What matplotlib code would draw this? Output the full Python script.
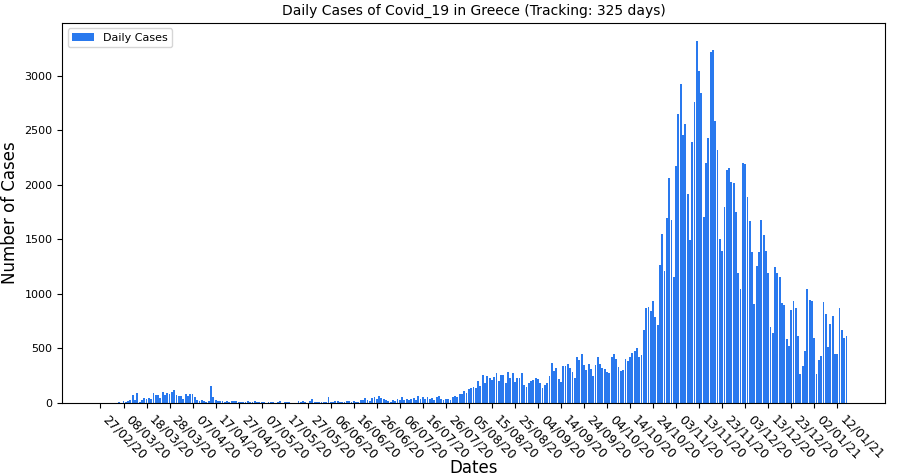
import datetime as dt

import matplotlib.pyplot as plt
import numpy as np

start = dt.date(2020, 2, 27)

early = [0, 0, 0, 0, 0, 0, 0, 0, 7, 3, 21, 10,
         14, 26, 73, 23, 89, 10, 31, 49, 38, 46,
         38, 95, 70, 71, 42, 96, 72, 90, 82, 102,
         121, 75, 61, 62, 34, 80, 62, 81, 84, 57,
         30, 19, 24, 20, 10, 15, 156, 50, 24, 16,
         13, 22, 11, 19, 10, 17, 15, 14, 8, 10,
         9, 10, 14, 8, 5, 20, 10, 4, 9, 12,
         3, 8, 6, 10, 2, 5, 16, 2, 6, 11,
         10, 3, 2, 0, 15, 7, 20, 4, 3, 16,
         36, 8, 10, 6, 4, 12, 8, 54, 12, 10,
         15, 20, 8, 10, 12, 18, 16, 12, 22, 12,
         12, 28, 30, 46, 25, 15, 47, 54, 38, 60,
         45, 35, 30, 20, 12, 30, 22, 40, 30, 52,
         30, 40, 25, 35, 45, 28, 60, 40, 55, 35,
         50, 35, 45, 25, 55, 60, 40, 30, 33, 40,
         30, 50, 60, 55, 85, 80, 110, 90, 125, 140,
         150, 140, 200, 155, 260, 180, 245, 230, 210, 240,
         270, 200, 260, 260, 180, 280, 230, 270, 195, 230,
         230, 270, 160, 150, 180, 200, 210, 230, 220, 180,
         140, 160, 180, 250, 370, 290, 320, 220, 190, 340,
         340, 360, 320, 280, 225, 420, 390, 450, 350, 300,
         360, 310, 250, 350, 420, 360, 320, 310, 280, 270,
         420, 450, 400, 330, 290, 300, 400, 380, 420, 460,
         480, 500, 420, 440]

late = [667, 870, 880, 840, 930, 790, 713, 1263, 1548, 1209,
        1695, 2062, 1677, 1154, 2172, 2650, 2925, 2460, 2558, 1915,
        1493, 2393, 2760, 3320, 3045, 2843, 1704, 2200, 2430, 3219,
        3237, 2586, 2320, 1500, 1392, 1800, 2136, 2154, 2026, 2017,
        1750, 1190, 1043, 2200, 2191, 1888, 1668, 1383, 906, 1255,
        1383, 1677, 1539, 1392, 1190, 695, 640, 1245, 1190, 1154,
        915, 897, 584, 520, 851, 933, 869, 612, 263, 337,
        474, 1043, 942, 933, 594, 263, 392, 428, 924, 814,
        511, 722, 796, 447, 447, 869, 667, 594, 612]

cases = early + late
n_days = len(cases)
days = np.arange(n_days)
tick_pos = np.arange(0, n_days, 10)
tick_labels = [(start + dt.timedelta(days=int(d))).strftime('%d/%m/%y') for d in tick_pos]

fig, ax = plt.subplots(figsize=(9.01, 4.74), dpi=100)
ax.bar(days, cases, color='#2979ee', label='Daily Cases')
ax.set_xticks(tick_pos)
ax.set_xticklabels(tick_labels, rotation=-45, ha='left', fontsize=9)
ax.tick_params(axis='y', labelsize=8)
ax.set_title(f'Daily Cases of Covid_19 in Greece (Tracking: {n_days} days)', fontsize=10)
ax.set_xlabel('Dates', fontsize=12, labelpad=-2)
ax.set_ylabel('Number of Cases', fontsize=12)
ax.legend(loc='upper left', fontsize=8)
plt.subplots_adjust(left=0.069, right=0.982, top=0.952, bottom=0.15)
plt.savefig('out.png')
